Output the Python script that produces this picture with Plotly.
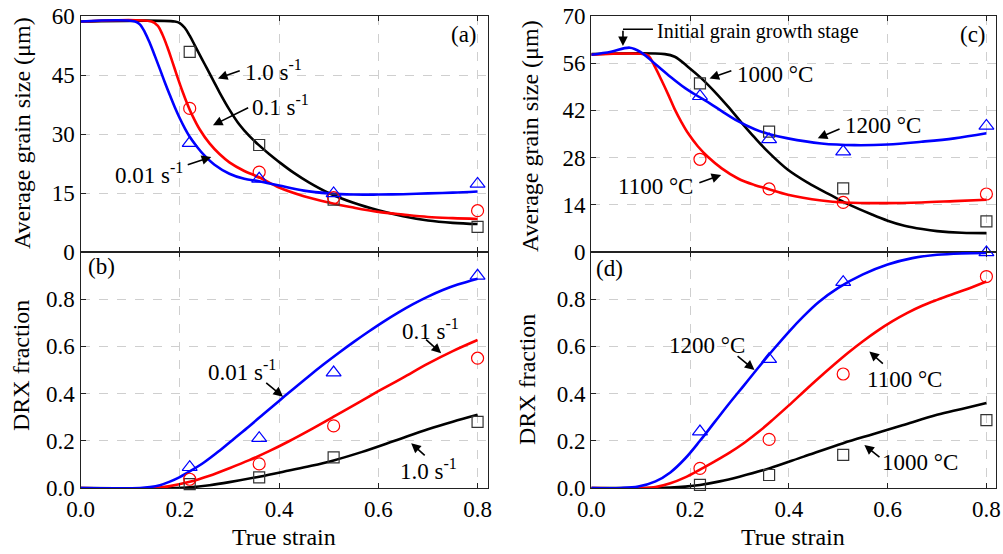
import plotly.graph_objects as go

FONT = "Liberation Serif"

# ---------------- data ----------------
strain_exp = [0.22, 0.36, 0.51, 0.80]

# (a) grain size vs strain, strain-rate series
a_x_10 = [0, 0.19, 0.20, 0.21, 0.22, 0.23, 0.24, 0.25, 0.26, 0.27, 0.28, 0.30, 0.32, 0.34, 0.36, 0.38, 0.40, 0.43, 0.46, 0.50, 0.55, 0.60, 0.65, 0.70, 0.75, 0.80]
a_y_10 = [58.6, 58.6, 58.2, 57.0, 55.0, 52.6, 50.2, 47.8, 45.4, 43.0, 40.6, 36.2, 32.4, 29.5, 27.1, 24.9, 22.9, 20.1, 17.7, 15.0, 12.5, 10.6, 9.1, 8.0, 7.4, 7.1]
a_x_01 = [0, 0.143, 0.155, 0.165, 0.175, 0.185, 0.195, 0.205, 0.215, 0.225, 0.24, 0.26, 0.28, 0.30, 0.33, 0.36, 0.40, 0.45, 0.50, 0.55, 0.60, 0.65, 0.70, 0.75, 0.80]
a_y_01 = [58.6, 58.6, 57.6, 55.3, 52.1, 48.4, 44.6, 41.0, 37.7, 34.8, 31.2, 27.6, 24.9, 22.8, 20.6, 19.0, 16.4, 14.2, 12.6, 11.3, 10.2, 9.5, 8.9, 8.6, 8.4]
a_x_001 = [0, 0.11, 0.12, 0.13, 0.14, 0.15, 0.16, 0.17, 0.18, 0.19, 0.20, 0.21, 0.22, 0.235, 0.25, 0.27, 0.30, 0.33, 0.36, 0.40, 0.45, 0.50, 0.55, 0.60, 0.65, 0.70, 0.75, 0.80]
a_y_001 = [58.6, 58.6, 57.8, 55.8, 53.0, 49.8, 46.5, 43.1, 39.9, 36.8, 34.0, 31.5, 29.3, 26.7, 24.5, 22.2, 19.9, 18.6, 18.0, 16.9, 15.6, 14.9, 14.6, 14.6, 14.7, 14.9, 15.1, 15.4]
a_exp_10 = [50.9, 27.2, 13.3, 6.4]
a_exp_01 = [36.5, 20.3, 13.8, 10.5]
a_exp_001 = [27.7, 18.6, 14.9, 17.3]

# (b) DRX fraction vs strain, strain-rate series
b_x_10 = [0, 0.19, 0.22, 0.26, 0.30, 0.36, 0.42, 0.465, 0.51, 0.566, 0.633, 0.70, 0.75, 0.80]
b_y_10 = [0, 0, 0.003, 0.012, 0.025, 0.048, 0.074, 0.094, 0.117, 0.152, 0.200, 0.249, 0.281, 0.31]
b_x_01 = [0, 0.15, 0.18, 0.22, 0.26, 0.30, 0.34, 0.38, 0.42, 0.46, 0.51, 0.56, 0.60, 0.65, 0.70, 0.75, 0.80]
b_y_01 = [0, 0, 0.008, 0.026, 0.052, 0.084, 0.118, 0.156, 0.198, 0.243, 0.302, 0.362, 0.41, 0.468, 0.527, 0.58, 0.627]
b_x_001 = [0, 0.12, 0.14, 0.16, 0.18, 0.20, 0.22, 0.25, 0.28, 0.31, 0.34, 0.37, 0.40, 0.43, 0.46, 0.49, 0.52, 0.55, 0.58, 0.61, 0.64, 0.67, 0.70, 0.73, 0.76, 0.80]
b_y_001 = [0, 0, 0.004, 0.012, 0.027, 0.046, 0.07, 0.11, 0.158, 0.21, 0.262, 0.316, 0.369, 0.422, 0.474, 0.524, 0.572, 0.618, 0.662, 0.704, 0.743, 0.779, 0.811, 0.839, 0.862, 0.887]
b_exp_10 = [0.016, 0.045, 0.13, 0.28]
b_exp_01 = [0.037, 0.102, 0.263, 0.55]
b_exp_001 = [0.088, 0.211, 0.489, 0.899]

# (c) grain size vs strain, temperature series
c_x_1000 = [0, 0.149, 0.169, 0.196, 0.223, 0.25, 0.277, 0.304, 0.331, 0.358, 0.398, 0.439, 0.479, 0.50, 0.52, 0.567, 0.60, 0.634, 0.67, 0.70, 0.75, 0.80]
c_y_1000 = [58.7, 58.7, 57.9, 54.9, 51.5, 47.5, 43.1, 38.4, 33.9, 29.7, 24.4, 20.5, 17.3, 15.7, 14.2, 11.2, 9.3, 7.8, 6.8, 6.2, 5.7, 5.6]
c_x_1100 = [0, 0.112, 0.118, 0.129, 0.142, 0.156, 0.169, 0.183, 0.196, 0.216, 0.237, 0.264, 0.297, 0.33, 0.358, 0.398, 0.466, 0.511, 0.60, 0.668, 0.735, 0.80]
c_y_1100 = [58.5, 58.5, 57.8, 54.9, 51.0, 46.6, 42.3, 38.4, 35.2, 31.3, 28.1, 24.8, 21.8, 19.9, 18.7, 17.0, 15.3, 14.7, 14.5, 14.7, 15.1, 15.5]
c_x_1200 = [0, 0.04, 0.078, 0.10, 0.13, 0.16, 0.19, 0.216, 0.24, 0.264, 0.297, 0.331, 0.359, 0.398, 0.466, 0.533, 0.60, 0.668, 0.735, 0.80]
c_y_1200 = [58.5, 59.4, 60.6, 59.3, 55.7, 52.0, 48.6, 46.2, 44.1, 41.8, 38.8, 36.4, 35.0, 33.7, 32.2, 31.7, 31.9, 32.7, 33.7, 35.2]
c_exp_1000 = [50.0, 35.7, 18.9, 9.1]
c_exp_1100 = [27.5, 18.7, 14.7, 17.2]
c_exp_1200 = [46.2, 33.4, 29.8, 37.4]

# (d) DRX fraction vs strain, temperature series
d_x_1000 = [0, 0.13, 0.16, 0.19, 0.22, 0.26, 0.30, 0.36, 0.43, 0.51, 0.57, 0.63, 0.70, 0.75, 0.80]
d_y_1000 = [0, 0, 0.002, 0.006, 0.013, 0.028, 0.048, 0.083, 0.133, 0.19, 0.228, 0.266, 0.31, 0.335, 0.36]
d_x_1100 = [0, 0.11, 0.13, 0.16, 0.19, 0.22, 0.25, 0.28, 0.31, 0.34, 0.37, 0.40, 0.43, 0.46, 0.49, 0.52, 0.55, 0.58, 0.61, 0.64, 0.67, 0.70, 0.73, 0.76, 0.80]
d_y_1100 = [0, 0, 0.004, 0.02, 0.045, 0.078, 0.113, 0.15, 0.192, 0.24, 0.294, 0.35, 0.408, 0.465, 0.52, 0.573, 0.622, 0.667, 0.707, 0.742, 0.772, 0.797, 0.82, 0.842, 0.875]
d_x_1200 = [0, 0.06, 0.095, 0.13, 0.16, 0.19, 0.22, 0.25, 0.28, 0.31, 0.34, 0.37, 0.40, 0.43, 0.46, 0.50, 0.55, 0.60, 0.65, 0.70, 0.75, 0.80]
d_y_1200 = [0, 0, 0.006, 0.028, 0.066, 0.125, 0.20, 0.28, 0.36, 0.437, 0.515, 0.59, 0.662, 0.728, 0.787, 0.848, 0.905, 0.947, 0.974, 0.988, 0.994, 0.996]
d_exp_1000 = [0.013, 0.055, 0.14, 0.288]
d_exp_1100 = [0.083, 0.206, 0.483, 0.896]
d_exp_1200 = [0.239, 0.546, 0.872, 0.998]

x_ticks = [0.0, 0.2, 0.4, 0.6, 0.8]
a_ticks = [0, 15, 30, 45, 60]
c_ticks = [0, 14, 28, 42, 56, 70]
f_ticks = [0.0, 0.2, 0.4, 0.6, 0.8]

BLACK, RED, BLUE = "#000000", "#FF0000", "#0000FF"

fig = go.Figure()

def add_line(xs, ys, color, xa, ya):
    fig.add_trace(go.Scatter(x=xs, y=ys, mode="lines", xaxis=xa, yaxis=ya,
                             line=dict(color=color, width=2.6, shape="spline", smoothing=1.0),
                             showlegend=False, hoverinfo="skip"))

def add_pts(ys, color, symbol, size, xa, ya):
    fig.add_trace(go.Scatter(x=strain_exp, y=ys, mode="markers", xaxis=xa, yaxis=ya,
                             marker=dict(symbol=symbol, size=size, color="rgba(255,255,255,0)",
                                         line=dict(color=color, width=1.2)),
                             cliponaxis=False, showlegend=False))

# (a)
add_line(a_x_10, a_y_10, BLACK, "x", "y")
add_line(a_x_01, a_y_01, RED, "x", "y")
add_line(a_x_001, a_y_001, BLUE, "x", "y")
add_pts(a_exp_10, "#333333", "square", 11, "x", "y")
add_pts(a_exp_01, RED, "circle", 12, "x", "y")
add_pts(a_exp_001, BLUE, "triangle-up", 13, "x", "y")
# (b)
add_line(b_x_10, b_y_10, BLACK, "x2", "y2")
add_line(b_x_01, b_y_01, RED, "x2", "y2")
add_line(b_x_001, b_y_001, BLUE, "x2", "y2")
add_pts(b_exp_10, "#333333", "square", 11, "x2", "y2")
add_pts(b_exp_01, RED, "circle", 12, "x2", "y2")
add_pts(b_exp_001, BLUE, "triangle-up", 13, "x2", "y2")
# (c)
add_line(c_x_1000, c_y_1000, BLACK, "x3", "y3")
add_line(c_x_1100, c_y_1100, RED, "x3", "y3")
add_line(c_x_1200, c_y_1200, BLUE, "x3", "y3")
add_pts(c_exp_1000, "#333333", "square", 11, "x3", "y3")
add_pts(c_exp_1100, RED, "circle", 12, "x3", "y3")
add_pts(c_exp_1200, BLUE, "triangle-up", 13, "x3", "y3")
# (d)
add_line(d_x_1000, d_y_1000, BLACK, "x4", "y4")
add_line(d_x_1100, d_y_1100, RED, "x4", "y4")
add_line(d_x_1200, d_y_1200, BLUE, "x4", "y4")
add_pts(d_exp_1000, "#333333", "square", 11, "x4", "y4")
add_pts(d_exp_1100, RED, "circle", 12, "x4", "y4")
add_pts(d_exp_1200, BLUE, "triangle-up", 13, "x4", "y4")

LX = [80.5 / 1003, 487.5 / 1003]
RX = [591.3 / 1003, 996.3 / 1003]
TY = [1 - 252 / 554, 1 - 16 / 554]
BY = [1 - 488 / 554, 1 - 252 / 554]

tickfont = dict(family=FONT, size=23, color="black")
common = dict(showline=True, linecolor="#222222", linewidth=1.3, ticks="inside", ticklen=5,
              tickwidth=1.2, tickcolor="#222222", showgrid=True, gridcolor="#cfcfcf",
              griddash="dash", gridwidth=1, zeroline=False, automargin=False, tickfont=tickfont)

def xax(domain, anchor, labels):
    return dict(common, domain=domain, anchor=anchor, range=[0, 0.82], tickvals=x_ticks,
                tickformat=".1f", showticklabels=labels, mirror="allticks")

def yax(domain, anchor, rng, vals, fmt):
    return dict(common, domain=domain, anchor=anchor, range=rng, tickvals=vals,
                tickformat=fmt, mirror=True)

fig.update_layout(
    width=1003, height=554, margin=dict(l=0, r=0, t=0, b=0),
    paper_bgcolor="white", plot_bgcolor="white",
    font=dict(family=FONT, size=23, color="black"),
    xaxis=xax(LX, "y", False), yaxis=yax(TY, "x", [0, 60], a_ticks, "d"),
    xaxis2=xax(LX, "y2", True), yaxis2=yax(BY, "x2", [0, 1.0], f_ticks, ".1f"),
    xaxis3=xax(RX, "y3", False), yaxis3=yax(TY, "x3", [0, 70], c_ticks, "d"),
    xaxis4=xax(RX, "y4", True), yaxis4=yax(BY, "x4", [0, 1.0], f_ticks, ".1f"),
)

ann = []
def text(x, y, s, xr, yr, xanchor="center", size=23):
    ann.append(dict(x=x, y=y, xref=xr, yref=yr, text=s, showarrow=False, xanchor=xanchor,
                    yanchor="middle", font=dict(family=FONT, size=size, color="black")))

def arrow(x, y, ax, ay, xr, yr):
    ann.append(dict(x=x, y=y, xref=xr, yref=yr, ax=ax, ay=ay, text="", showarrow=True,
                    arrowhead=2, arrowsize=1.2, arrowwidth=1.6, arrowcolor="black"))

# axis titles
text(22 / 1003, 1 - 133 / 554, "Average grain size (μm)", "paper", "paper", size=24)
text(21 / 1003, 1 - 366 / 554, "DRX fraction", "paper", "paper", size=24)
text(530 / 1003, 1 - 136 / 554, "Average grain size (μm)", "paper", "paper", size=24)
text(527 / 1003, 1 - 380 / 554, "DRX fraction", "paper", "paper", size=24)
for a in ann[-4:]:
    a["textangle"] = -90
text(284 / 1003, 1 - 537 / 554, "True strain", "paper", "paper", size=24)
text(793 / 1003, 1 - 537 / 554, "True strain", "paper", "paper", size=24)

# panel labels
text(0.7734, 55.4, "(a)", "x", "y")
text(0.0413, 0.937, "(b)", "x2", "y2")
text(0.7719, 64.6, "(c)", "x3", "y3")
text(0.0368, 0.929, "(d)", "x4", "y4")

# (a) series labels
text(0.327, 46.2, "1.0 s<sup>-1</sup>", "x", "y", "left")
arrow(0.2769, 44.13, 23.3, -8.3, "x", "y")
text(0.341, 37.3, "0.1 s<sup>-1</sup>", "x", "y", "left")
arrow(0.2669, 32.23, 36.7, -18.3, "x", "y")
text(0.2105, 20.0, "0.01 s<sup>-1</sup>", "x", "y", "right")
arrow(0.2634, 24.15, -25, 8.3, "x", "y")

# (b) series labels
text(0.3253, 0.50, "0.01 s<sup>-1</sup>", "x2", "y2")
arrow(0.408, 0.387, -18.3, -15, "x2", "y2")
text(0.705, 0.67, "0.1 s<sup>-1</sup>", "x2", "y2")
arrow(0.7267, 0.571, -16.6, -15, "x2", "y2")
text(0.7016, 0.0763, "1.0 s<sup>-1</sup>", "x2", "y2")
arrow(0.6663, 0.1896, 15, 13.4, "x2", "y2")

# (c) series labels
text(0.1288, 65.5, "Initial grain growth stage", "x3", "y3", "left", size=20)
arrow(0.0641, 61.1, 0, -16.7, "x3", "y3")
text(0.2906, 52.75, "1000 °C", "x3", "y3", "left")
arrow(0.2394, 51.48, 23.3, -8.3, "x3", "y3")
text(0.509, 37.4, "1200 °C", "x3", "y3", "left")
arrow(0.4585, 33.73, 23.3, -10, "x3", "y3")
text(0.2091, 19.3, "1100 °C", "x3", "y3", "right")
arrow(0.2629, 22.87, -23.3, 8.3, "x3", "y3")

# (d) series labels
text(0.2339, 0.602, "1200 °C", "x4", "y4")
arrow(0.3304, 0.5004, -18.4, -15, "x4", "y4")
text(0.6337, 0.458, "1100 °C", "x4", "y4")
arrow(0.563, 0.578, 15, 13.3, "x4", "y4")
text(0.6657, 0.1061, "1000 °C", "x4", "y4")
arrow(0.5529, 0.1824, 16.6, 13.3, "x4", "y4")

fig.update_layout(annotations=ann)
fig.add_shape(type="line", xref="x3", yref="y3", x0=0.0641, x1=0.1248, y0=66.07, y1=66.07,
              line=dict(color="black", width=1.6))

fig.write_html("out.html")
